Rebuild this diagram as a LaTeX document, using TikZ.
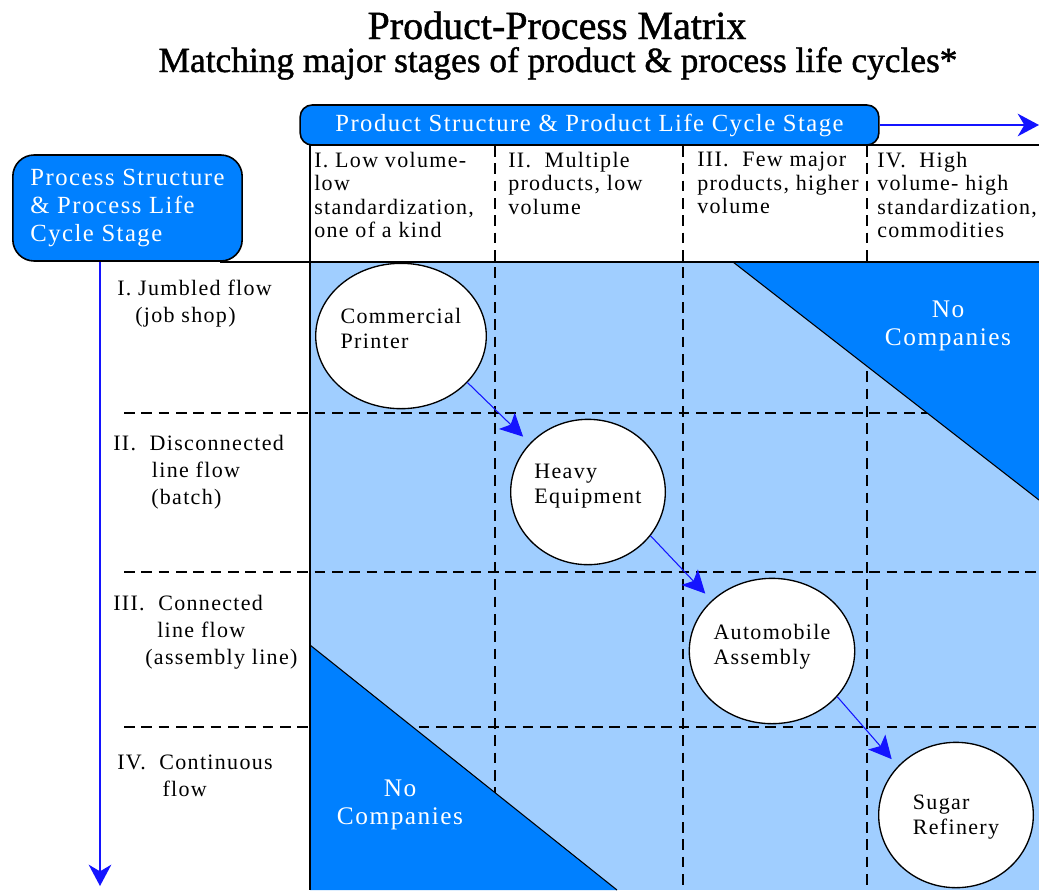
\documentclass[tikz,border=0pt]{standalone}
\usepackage{fontspec}
\setmainfont{Liberation Serif}
\newfontfamily\spacedfont{Liberation Serif}[LetterSpace=6]
\newfontfamily\titlefont{Liberation Serif}[FakeBold=1.2]
\usetikzlibrary{shapes.geometric,arrows.meta}

\definecolor{lightcell}{RGB}{160,206,255}
\definecolor{darkcell}{RGB}{0,128,255}
\definecolor{arrowblue}{RGB}{20,20,255}

\tikzset{
	titletext/.style={anchor=base, inner sep=0pt, font=\titlefont\fontsize{30}{32}\selectfont},
	subtitletext/.style={anchor=base, inner sep=0pt, font=\titlefont\fontsize{26.5}{28}\selectfont},
	stagebox/.style={draw=black, line width=1.2pt, fill=darkcell, text=white, align=left, inner sep=0pt, font=\spacedfont\fontsize{18.5}{21}\selectfont},
	celltext/.style={anchor=north west, inner sep=0pt, align=left, font=\spacedfont\fontsize{16.5}{17.5}\selectfont},
	rowtext/.style={anchor=north west, inner sep=0pt, align=left, font=\spacedfont\fontsize{16.5}{20.25}\selectfont},
	firm/.style={ellipse, draw=black, line width=1pt, fill=white, minimum width=116pt, minimum height=109pt, inner sep=0pt, align=left, text depth=12pt, font=\spacedfont\fontsize{16.5}{18.75}\selectfont},
	nofirm/.style={text=white, align=center, inner sep=0pt, font=\spacedfont\fontsize{19}{21.5}\selectfont},
	gridline/.style={black, line width=1.1pt, dash pattern=on 8pt off 5pt},
	edge/.style={black, line width=0.8pt},
	axis/.style={arrowblue, line width=1.1pt, -{Stealth[length=16pt, width=17pt, inset=5pt]}},
	flow/.style={arrowblue, line width=0.8pt, -{Stealth[length=17pt, width=17pt, inset=4pt]}, shorten >=7pt}
}

\begin{document}
\begin{tikzpicture}[x=0.75pt, y=-0.75pt]
	\useasboundingbox (0,0) rectangle (1039,890);

	% title
	\node[titletext] (title) at (557,39) {Product-Process Matrix};
	\node[subtitletext] (subtitle) at (558,72) {Matching major stages of product \& process life cycles*};

	% matrix and stage grid
	\fill[lightcell] (310,262) rectangle (1039,890);
	\foreach \x in {495, 683, 867} \draw[gridline] (\x,146) -- (\x,890);
	\foreach \y in {413, 572, 727} \draw[gridline] (124,\y) -- (1039,\y);

	% corners with no companies
	\fill[darkcell] (733,262) -- (1039,500) -- (1039,262) -- cycle;
	\draw[edge] (733,262) -- (1039,500);
	\fill[darkcell] (310,645) -- (617,890) -- (310,890) -- cycle;
	\draw[edge] (310,645) -- (617,890);

	% header frame
	\draw[edge] (310,145) -- (1039,145);
	\draw[edge] (220,262) -- (1039,262);
	\draw[edge] (310,145) -- (310,262);
	\draw[black, line width=1.8pt] (310,262) -- (310,890);

	% stage boxes and axes
	\node[stagebox, minimum width=434pt, minimum height=30pt, rounded corners=9pt] (prodbox) at (589.5,125) {Product Structure \& Product Life Cycle Stage};
	\node[stagebox, minimum width=172pt, minimum height=79.5pt, rounded corners=16pt] (procbox) at (127.5,208) {Process Structure\\\& Process Life\\Cycle Stage};
	\coordinate (prodend) at (1039,125);
	\coordinate (procstart) at (100,262);
	\coordinate (procend) at (100,886);
	\draw[axis] (prodbox.east) -- (prodend);
	\draw[axis] (procstart) -- (procend);

	% product stages
	\node[celltext] (colI) at (314,152) {I. Low volume-\\low\\standardization,\\one of a kind};
	\node[celltext] (colII) at (508,152) {II.~~Multiple\\products, low\\volume};
	\node[celltext] (colIII) at (697,152) {III.~~Few major\\products, higher\\volume};
	\node[celltext] (colIV) at (877,152) {IV.~~High\\volume- high\\standardization,\\commodities};

	% process stages
	\node[rowtext] (rowI) at (117,280) {I. Jumbled flow\\\hspace*{13.5pt}(job shop)};
	\node[rowtext] (rowII) at (113,435) {II.~~Disconnected\\\hspace*{29pt}line flow\\\hspace*{28.5pt}(batch)};
	\node[rowtext] (rowIII) at (113,595) {III.~~Connected\\\hspace*{33pt}line flow\\\hspace*{24pt}(assembly line)};
	\node[rowtext] (rowIV) at (117,755) {IV.~~Continuous\\\hspace*{34pt}flow};

	% companies
	\node[firm] (printer) at (401,336) {Commercial\\Printer};
	\node[firm] (equip) at (588,492) {Heavy\\Equipment};
	\node[firm, text depth=10pt] (auto) at (772,651) {Automobile\\Assembly};
	\node[firm, text depth=0pt] (sugar) at (956,815) {Sugar\\Refinery};
	\foreach \a/\b in {printer/equip, equip/auto, auto/sugar}
		\draw[flow] (\a.-35) -- (\b.140);

	\node[nofirm] (noneup) at (948,326) {No\\Companies};
	\node[nofirm] (nonelow) at (400,805) {No\\Companies};
\end{tikzpicture}
\end{document}
